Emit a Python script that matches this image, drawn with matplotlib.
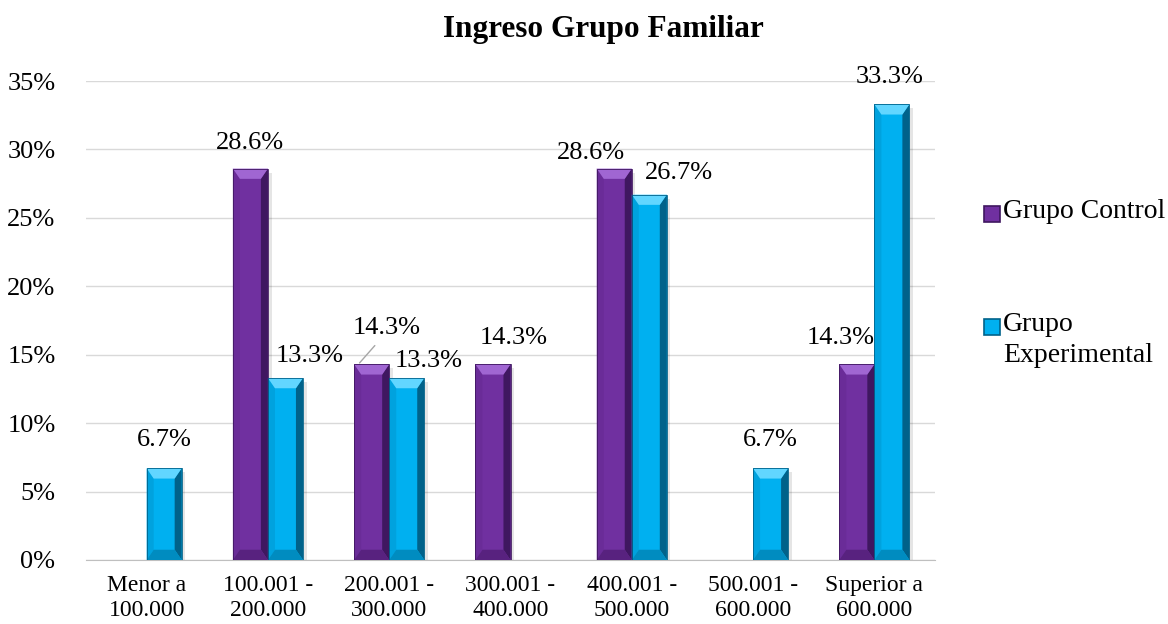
import matplotlib
matplotlib.use("Agg")
import matplotlib.pyplot as plt
from matplotlib.patches import Polygon, Rectangle
from matplotlib.lines import Line2D
import numpy as np

categories = ["Menor a\n100.000", "100.001 -\n200.000", "200.001 -\n300.000",
              "300.001 -\n400.000", "400.001 -\n500.000", "500.001 -\n600.000",
              "Superior a\n600.000"]
control = [0.0, 28.6, 14.3, 14.3, 28.6, 0.0, 14.3]
experimental = [6.7, 13.3, 13.3, 0.0, 26.7, 6.7, 33.3]
series_names = ["Grupo Control", "Grupo\nExperimental"]
yticks = [0, 5, 10, 15, 20, 25, 30, 35]

# data-label offsets in pixels from bar-top centre to label centre (dx, dy up)
ctrl_off = [None, (0, 26), (15, 36), (21, 26), (-23, 16), None, (-16, 26)]
exp_off = [(0, 28), (24, 22), (22, 17), None, (30, 22), (0, 28), (-2, 27)]

plt.rcParams['font.family'] = ['Liberation Serif', 'DejaVu Serif']

purple = dict(main="#7030A0", top="#A066D2", dark="#3F1760", side="#6A2C98", bot="#58227F")
cyan = dict(main="#00B0F0", top="#62D6FF", dark="#00628A", side="#00A2DE", bot="#008CC0")

fig = plt.figure(figsize=(11.68, 6.24), dpi=100)
ax = fig.add_axes([86/1168, 1-560/624, (935-86)/1168, (560-81)/624])

x = np.arange(len(categories))
w = 0.289
ax.set_xlim(-0.5, len(categories)-0.5)
ax.set_ylim(0, 35)

def bevel_bars(xs, vals, col):
    bx = 0.058
    by = 0.75
    for xc, v in zip(xs, vals):
        if v <= 0:
            continue
        x0, x1 = xc - w/2, xc + w/2
        ax.add_patch(Rectangle((x1, 0), 0.03, v - 0.3, facecolor="#000000", alpha=0.10,
                               edgecolor='none', zorder=2))
        ax.add_patch(Rectangle((x0, 0), w, v, facecolor=col["main"], edgecolor='none', zorder=3))
        ax.add_patch(Polygon([(x0, 0), (x0, v), (x0+bx, v-by), (x0+bx, by)],
                             closed=True, facecolor=col["side"], edgecolor='none', zorder=4))
        ax.add_patch(Polygon([(x1, 0), (x1, v), (x1-bx, v-by), (x1-bx, by)],
                             closed=True, facecolor=col["dark"], edgecolor='none', zorder=4))
        ax.add_patch(Polygon([(x0, v), (x1, v), (x1-bx, v-by), (x0+bx, v-by)],
                             closed=True, facecolor=col["top"], edgecolor='none', zorder=4))
        ax.add_patch(Polygon([(x0, 0), (x1, 0), (x1-bx, by), (x0+bx, by)],
                             closed=True, facecolor=col["bot"], edgecolor='none', zorder=4))
        ax.add_patch(Rectangle((x0, 0), w, v, facecolor='none', edgecolor=col["dark"],
                               lw=0.6, zorder=5))

xc_ctrl = x - w/2
xc_exp = x + w/2
bevel_bars(xc_ctrl, control, purple)
bevel_bars(xc_exp, experimental, cyan)

for xs, vals, offs in [(xc_ctrl, control, ctrl_off), (xc_exp, experimental, exp_off)]:
    for xc, v, off in zip(xs, vals, offs):
        if off is None or v <= 0:
            continue
        ax.annotate(f"{v:.1f}%", (xc, v), xytext=(off[0]*0.72, off[1]*0.72),
                    textcoords="offset points", ha="center", va="center",
                    fontsize=19, zorder=6)

# leader line for 14.3% at 200.001 - 300.000
ax.annotate("", (xc_ctrl[2] - 0.1, control[2] + 0.1), xytext=(11, 12.5), textcoords="offset points",
            arrowprops=dict(arrowstyle="-", color="#A6A6A6", lw=1, shrinkA=0, shrinkB=0))

ax.set_yticks(yticks)
ax.set_yticklabels([f"{t}%" for t in yticks], fontsize=19)
ax.set_xticks(x)
ax.set_xticklabels(categories, fontsize=17, linespacing=1.25)
ax.tick_params(length=0)
ax.tick_params(axis='x', pad=11)
ax.tick_params(axis='y', pad=22)
ax.yaxis.grid(True, color="#D9D9D9", lw=1)
ax.set_axisbelow(True)
for s in ["top", "right", "left"]:
    ax.spines[s].set_visible(False)
ax.spines["bottom"].set_color("#BFBFBF")

fig.text(603/1168, 1-30/624, "Ingreso Grupo Familiar", ha="center", va="center",
         fontsize=22.5, fontweight="bold")

# legend
leg_items = [(purple, 213), (cyan, 326)]
for (col, ypix), name in zip(leg_items, series_names):
    fig.add_artist(Line2D([992/1168], [1-(ypix+1)/624], marker='s', ls='none', markersize=11,
                          markerfacecolor=col["main"], markeredgecolor=col["dark"],
                          markeredgewidth=1.2, transform=fig.transFigure))
    fig.text(1003/1168, 1-(ypix-14)/624, name, ha="left", va="top", fontsize=20,
             linespacing=1.3)

fig.savefig("out.png", dpi=100)
